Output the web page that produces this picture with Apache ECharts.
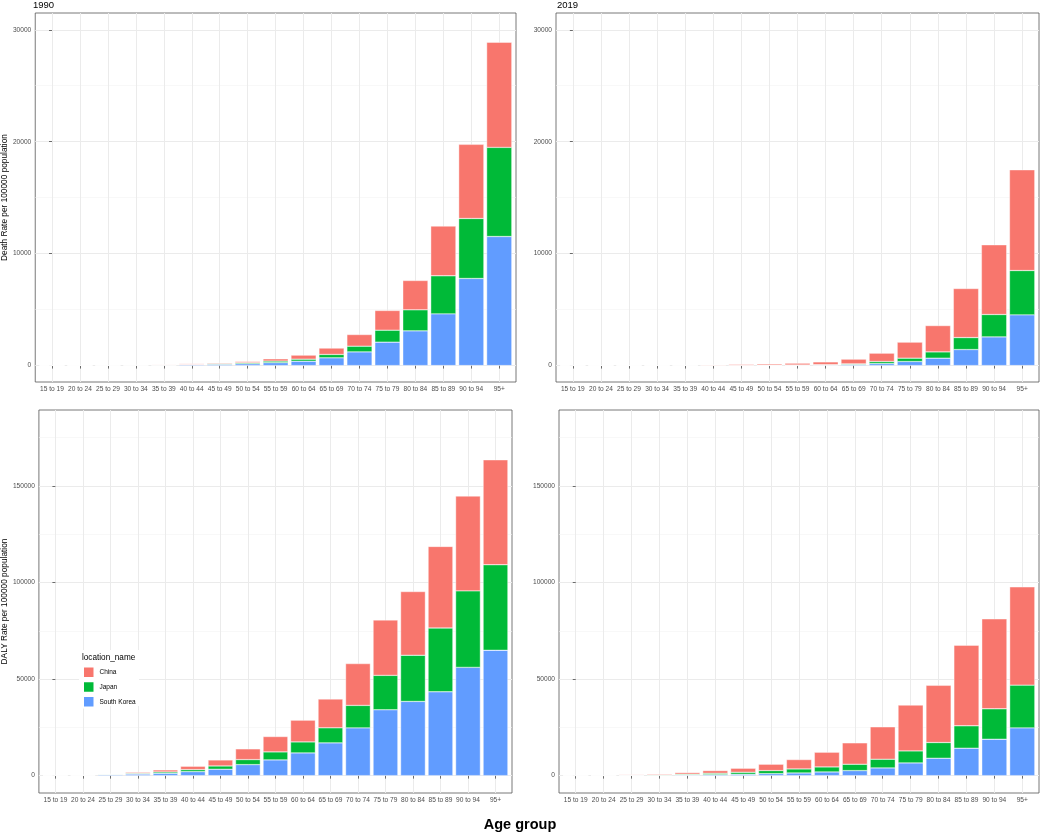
<!DOCTYPE html>
<html><head><meta charset="utf-8">
<script src="https://cdn.jsdelivr.net/npm/echarts@6/dist/echarts.min.js"></script>
<style>html,body{margin:0;padding:0;background:#fff}#c{width:1040px;height:834px}</style>
</head><body><div id="c"></div>
<script>
const categories = ['15 to 19','20 to 24','25 to 29','30 to 34','35 to 39','40 to 44','45 to 49','50 to 54','55 to 59','60 to 64','65 to 69','70 to 74','75 to 79','80 to 84','85 to 89','90 to 94','95+'];
const panelTitles = ['1990','2019'];
const countries = ['China','Japan','South Korea'];
const countryColors = ['#F8766D','#00BA38','#619CFF'];

// Death rate per 100000, 1990
const death1990SK = [1,3,10,20,35,70,110,160,260,390,690,1220,2090,3100,4620,7780,11530];
const death1990JP = [1,2,5,8,15,35,60,90,140,180,300,510,1070,1880,3400,5360,7960];
const death1990CN = [2,5,15,22,40,60,70,110,200,360,570,1040,1760,2620,4440,6620,9390];
// Death rate per 100000, 2019
const death2019SK = [0.3,0.5,1,2,3,6,10,15,25,45,90,180,360,660,1430,2560,4530];
const death2019JP = [0.3,0.5,1,2,4,6,10,15,25,40,60,180,300,560,1070,2000,3960];
const death2019CN = [1,3,8,16,28,48,80,110,160,240,420,745,1430,2350,4380,6230,9000];
// DALY rate per 100000, 1990
const daly1990SK = [60,100,450,800,1200,2080,3300,5700,8130,11750,16950,24700,34100,38400,43400,56050,64900];
const daly1990JP = [40,60,250,400,700,1040,1700,2600,4150,5700,7800,11650,17800,23900,33050,39600,44300];
const daly1990CN = [110,160,150,530,1050,1720,3100,5550,7950,11250,14900,21650,28700,33000,42200,49100,54300];
// DALY rate per 100000, 2019
const daly2019SK = [15,20,110,180,320,520,700,1040,1380,1900,2600,3980,6570,9000,14200,18850,24700];
const daly2019JP = [15,20,140,240,420,690,1030,1560,2080,2600,3280,4500,6230,8130,11600,15750,22150];
const daly2019CN = [20,30,270,450,820,1380,2080,3290,4850,7610,11080,16780,23700,29600,41700,46550,50850];

const deathTicks = [0,10000,20000,30000];
const deathMinorTicks = [5000,15000,25000];
const dalyTicks = [0,50000,100000,150000];
const dalyMinorTicks = [25000,75000,125000,175000];

const FF = "'Liberation Sans', Arial, Helvetica, sans-serif";
const panels = [
  {grid:{left:32,right:524,top:13,height:369}, min:-1470, max:31500, ticks:deathTicks, minor:deathMinorTicks,
   name:'Death Rate per 100000 population', nameGap:23, data:[death1990CN,death1990JP,death1990SK]},
  {grid:{left:556,right:1,top:13,height:369}, min:-1470, max:31500, ticks:deathTicks, minor:deathMinorTicks,
   name:'', nameGap:0, data:[death2019CN,death2019JP,death2019SK]},
  {grid:{left:36,right:528,top:410,height:383}, min:-9000, max:189300, ticks:dalyTicks, minor:dalyMinorTicks,
   name:'DALY Rate per 100000 population', nameGap:27, data:[daly1990CN,daly1990JP,daly1990SK]},
  {grid:{left:559,right:1,top:410,height:383}, min:-9000, max:189300, ticks:dalyTicks, minor:dalyMinorTicks,
   name:'', nameGap:0, data:[daly2019CN,daly2019JP,daly2019SK]}
];
const catIdx = categories.map((c,i)=>i);
const grid=[], xAxis=[], yAxis=[], series=[];
panels.forEach((p,g)=>{
  grid.push(Object.assign({show:true, borderColor:'#555', borderWidth:0.8, backgroundColor:'transparent', containLabel:false}, p.grid));
  xAxis.push({type:'value', gridIndex:g, min:-0.6, max:16.6,
    axisLine:{show:false},
    axisTick:{show:true, length:3, customValues:catIdx, lineStyle:{color:'#333', width:0.7}},
    axisLabel:{customValues:catIdx, formatter:v=>categories[Math.round(v)], fontSize:6.6, color:'#4D4D4D', margin:4, fontFamily:FF},
    splitLine:{show:true, lineStyle:{color:'#EBEBEB', width:1}}});
  yAxis.push({type:'value', gridIndex:g, min:p.min, max:p.max, position:'left',
    name:p.name, nameLocation:'middle', nameGap:p.nameGap, nameTextStyle:{fontSize:8.3, color:'#000', fontFamily:FF},
    axisLine:{show:false},
    axisTick:{show:true, length:3, customValues:p.ticks, lineStyle:{color:'#333', width:0.7}},
    axisLabel:{customValues:p.ticks, formatter:v=>String(v), fontSize:6.6, color:'#4D4D4D', margin:4, fontFamily:FF},
    splitLine:{show:true, lineStyle:{color:'#EBEBEB', width:1}}});
  yAxis.push({type:'value', gridIndex:g, min:p.min, max:p.max, position:'right',
    axisLine:{show:false},
    axisTick:{show:false, customValues:p.minor},
    axisLabel:{show:false, customValues:p.minor},
    splitLine:{show:true, lineStyle:{color:'#F3F3F3', width:0.6}}});
  // stack order: South Korea bottom, Japan middle, China top
  [2,1,0].forEach(k=>{
    series.push({type:'bar', name:countries[k], xAxisIndex:g, yAxisIndex:2*g, stack:'p'+g,
      barWidth:'90%', encode:{x:1, y:0},
      data:p.data[k].map((v,i)=>[v,i]),
      itemStyle:{color:countryColors[k], borderColor:'#fff', borderWidth:0.4},
      emphasis:{disabled:true}});
  });
});

const chart = echarts.init(document.getElementById('c'), null, {renderer:'canvas'});
chart.setOption({
  animation:false,
  backgroundColor:'#fff',
  grid, xAxis, yAxis, series,
  legend:{data:countries, orient:'vertical', left:82, top:665.5, padding:0, itemWidth:11.5, itemHeight:11.5, itemGap:1.3,
    icon:'rect', textStyle:{fontSize:6.5, color:'#000', fontFamily:FF}, selectedMode:false, z:10},
  graphic:[
    {type:'rect', shape:{x:79, y:650, width:60, height:56}, style:{fill:'#fff'}, z:1, silent:true},
    {type:'text', x:82, y:658, z:11, style:{text:'location_name', fontSize:8.2, fontFamily:FF, fill:'#000', verticalAlign:'middle'}},
    {type:'text', x:33, y:5.5, style:{text:panelTitles[0], fontSize:9.5, fontFamily:FF, fill:'#000', verticalAlign:'middle'}},
    {type:'text', x:557, y:5.5, style:{text:panelTitles[1], fontSize:9.5, fontFamily:FF, fill:'#000', verticalAlign:'middle'}},
    {type:'text', x:520, y:825, style:{text:'Age group', fontSize:14.5, fontWeight:'bold', fontFamily:FF, fill:'#000', align:'center', verticalAlign:'middle'}}
  ]
});
</script></body></html>
